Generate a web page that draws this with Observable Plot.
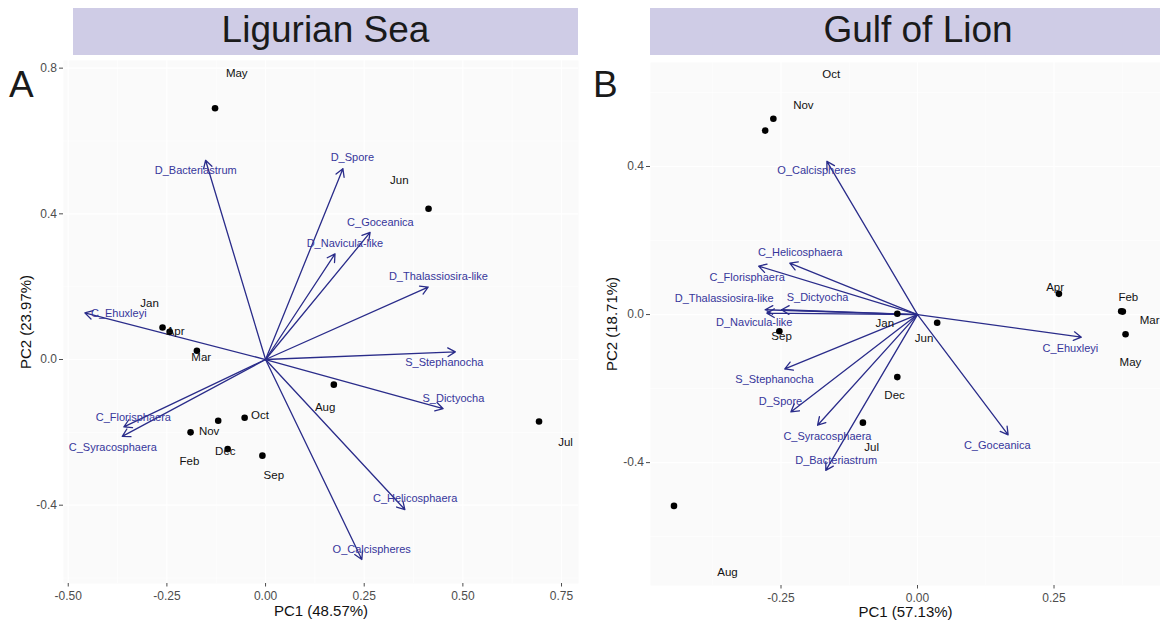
<!DOCTYPE html>
<html>
<head>
<meta charset="utf-8">
<script src="https://cdn.jsdelivr.net/npm/d3@7"></script>
<script src="https://cdn.jsdelivr.net/npm/@observablehq/plot@0.6"></script>
<style>
  html, body { margin: 0; padding: 0; background: #fff; }
  #wrap { position: relative; width: 1160px; height: 622px; overflow: hidden; background: #fff;
          font-family: "Liberation Sans", Arial, Helvetica, sans-serif; }
  .strip { position: absolute; top: 8px; height: 47px; background: #CFCCE6; color: #1A1A1A;
           font-size: 37px; line-height: 43px; text-align: center; white-space: nowrap; }
  .tag { position: absolute; font-size: 37px; line-height: 37px; color: #1A1A1A; }
  .pan { position: absolute; top: 0; }
</style>
</head>
<body>
<div id="wrap">
  <div class="strip" style="left:73px;width:505px;">Ligurian Sea</div>
  <div class="strip" style="left:650px;width:536px;">Gulf of Lion</div>
  <div class="tag" style="left:9px;top:66px;">A</div>
  <div class="tag" style="left:593px;top:66px;">B</div>
  <div class="pan" id="pa" style="left:0px;"></div>
  <div class="pan" id="pb" style="left:580px;"></div>
</div>
<script>
// ---------- shared categories ----------
const months = ["Jan","Feb","Mar","Apr","May","Jun","Jul","Aug","Sep","Oct","Nov","Dec"];
const species = ["C_Ehuxleyi","C_Florisphaera","C_Goceanica","C_Helicosphaera","C_Syracosphaera",
  "D_Bacteriastrum","D_Navicula-like","D_Spore","D_Thalassiosira-like","O_Calcispheres",
  "S_Dictyocha","S_Stephanocha"];

// ---------- A: Ligurian Sea ----------
const ligScoreX = [-0.261,-0.120,-0.174,-0.243,-0.128, 0.413, 0.693, 0.173,-0.008,-0.053,-0.190,-0.096];
const ligScoreY = [ 0.088,-0.168, 0.024, 0.076, 0.690, 0.414,-0.170,-0.069,-0.264,-0.160,-0.200,-0.246];
const ligMonthLabX = [-0.294,-0.193,-0.163,-0.228,-0.073, 0.339, 0.760, 0.151, 0.021,-0.014,-0.143,-0.102];
const ligMonthLabY = [ 0.155,-0.279, 0.005, 0.078, 0.786, 0.492,-0.228,-0.132,-0.318,-0.153,-0.196,-0.251];
const ligLoadX = [-0.458,-0.359, 0.265, 0.353,-0.363,-0.152, 0.176, 0.196, 0.412, 0.244, 0.450, 0.481];
const ligLoadY = [ 0.128,-0.185, 0.349,-0.412,-0.211, 0.547, 0.290, 0.524, 0.199,-0.549,-0.135, 0.021];
const ligLoadLabX = [-0.372,-0.335, 0.291, 0.379,-0.387,-0.177, 0.201, 0.220, 0.438, 0.269, 0.476, 0.453];
const ligLoadLabY = [ 0.126,-0.159, 0.376,-0.382,-0.241, 0.518, 0.319, 0.554, 0.227,-0.522,-0.108,-0.008];
const ligXTicks = [-0.5,-0.25,0,0.25,0.5,0.75];
const ligXMinor = [-0.375,-0.125,0.125,0.375,0.625];
const ligYTicks = [-0.4,0,0.4,0.8];
const ligYMinor = [-0.6,-0.2,0.2,0.6];
const ligXTitle = "PC1 (48.57%)";
const ligYTitle = "PC2 (23.97%)";

// ---------- B: Gulf of Lion ----------
const golScoreX = [-0.037, 0.373, 0.376, 0.259, 0.381, 0.036,-0.100,-0.446,-0.253,-0.279,-0.264,-0.037];
const golScoreY = [ 0.002, 0.009, 0.008, 0.056,-0.053,-0.022,-0.292,-0.517,-0.045, 0.497, 0.529,-0.169];
const golMonthLabX = [-0.060, 0.386, 0.425, 0.252, 0.390, 0.012,-0.084,-0.348,-0.249,-0.158,-0.209,-0.042];
const golMonthLabY = [-0.023, 0.047,-0.016, 0.074,-0.130,-0.063,-0.360,-0.697,-0.058, 0.649, 0.565,-0.217];
const golLoadX = [ 0.300,-0.291, 0.166,-0.234,-0.183,-0.168,-0.276,-0.232,-0.279,-0.166,-0.249,-0.243];
const golLoadY = [-0.061, 0.131,-0.325, 0.139,-0.299,-0.421, 0.004,-0.263, 0.013, 0.414, 0.013,-0.147];
const golLoadLabX = [ 0.280,-0.312, 0.146,-0.215,-0.165,-0.149,-0.299,-0.251,-0.354,-0.185,-0.183,-0.262];
const golLoadLabY = [-0.091, 0.101,-0.353, 0.167,-0.329,-0.394,-0.021,-0.235, 0.044, 0.389, 0.047,-0.175];
const golXTicks = [-0.25,0,0.25];
const golXMinor = [-0.375,-0.125,0.125,0.375];
const golYTicks = [-0.4,0,0.4];
const golYMinor = [-0.6,-0.2,0.2,0.6];
const golXTitle = "PC1 (57.13%)";
const golYTitle = "PC2 (18.71%)";

const arrowColor = "#2A2C8A";
const loadTextColor = "#36369A";

function panel(o) {
  const mi = d3.range(months.length);
  const si = d3.range(species.length);
  return Plot.plot({
    width: 580, height: 622,
    marginLeft: o.ml, marginRight: o.mr, marginTop: o.mt, marginBottom: o.mb,
    x: {domain: o.xd}, y: {domain: o.yd},
    style: {fontFamily: '"Liberation Sans", Arial, Helvetica, sans-serif', background: "transparent", overflow: "visible"},
    marks: [
      Plot.frame({fill: "#FAFAFA", stroke: "none"}),
      Plot.ruleX(o.xMinor, {stroke: "#FFFFFF", strokeWidth: 0.6}),
      Plot.ruleY(o.yMinor, {stroke: "#FFFFFF", strokeWidth: 0.6}),
      Plot.ruleX(o.xTicks, {stroke: "#FFFFFF", strokeWidth: 1.2}),
      Plot.ruleY(o.yTicks, {stroke: "#FFFFFF", strokeWidth: 1.2}),
      Plot.axisX({ticks: o.xTicks, tickFormat: d => d.toFixed(2), tickSize: 3.5, tickPadding: 4.5,
                  fontSize: 12, color: "#4D4D4D", label: null}),
      Plot.axisY({ticks: o.yTicks, tickFormat: d => d.toFixed(1), tickSize: 4, tickPadding: 2.5,
                  fontSize: 12, color: "#4D4D4D", label: null}),
      Plot.arrow(si, {x1: () => 0, y1: () => 0, x2: i => o.lx[i], y2: i => o.ly[i],
                      stroke: arrowColor, strokeWidth: 1.3, headLength: 10, headAngle: 60}),
      Plot.text(si, {x: i => o.llx[i], y: i => o.lly[i], text: i => species[i],
                     fill: loadTextColor, fontSize: 11, textAnchor: "middle", lineAnchor: "middle"}),
      Plot.dot(mi, {x: i => o.sx[i], y: i => o.sy[i], r: 3.3, fill: "#000", stroke: "none"}),
      Plot.text(mi, {x: i => o.mlx[i], y: i => o.mly[i], text: i => months[i],
                     fill: "#111", fontSize: 11.5, textAnchor: "middle", lineAnchor: "middle"}),
      Plot.text([o.xTitle], {frameAnchor: "bottom", dy: o.xdy, fontSize: 15, fill: "#111",
                             textAnchor: "middle", lineAnchor: "middle"}),
      Plot.text([o.yTitle], {frameAnchor: "left", dx: o.ydx, rotate: -90, fontSize: 15, fill: "#111",
                             textAnchor: "middle", lineAnchor: "middle"})
    ]
  });
}

document.getElementById("pa").append(panel({
  ml: 63, mr: 2, mt: 60, mb: 39,
  xd: [-0.512, 0.793], yd: [-0.615, 0.821],
  xTicks: ligXTicks, xMinor: ligXMinor, yTicks: ligYTicks, yMinor: ligYMinor,
  sx: ligScoreX, sy: ligScoreY, mlx: ligMonthLabX, mly: ligMonthLabY,
  lx: ligLoadX, ly: ligLoadY, llx: ligLoadLabX, lly: ligLoadLabY,
  xTitle: ligXTitle, yTitle: ligYTitle, xdy: 27.5, ydx: -37.5
}));

document.getElementById("pb").append(panel({
  ml: 70, mr: 0, mt: 62, mb: 37,
  xd: [-0.489, 0.445], yd: [-0.732, 0.681],
  xTicks: golXTicks, xMinor: golXMinor, yTicks: golYTicks, yMinor: golYMinor,
  sx: golScoreX, sy: golScoreY, mlx: golMonthLabX, mly: golMonthLabY,
  lx: golLoadX, ly: golLoadY, llx: golLoadLabX, lly: golLoadLabY,
  xTitle: golXTitle, yTitle: golYTitle, xdy: 27, ydx: -38
}));
</script>
</body>
</html>
